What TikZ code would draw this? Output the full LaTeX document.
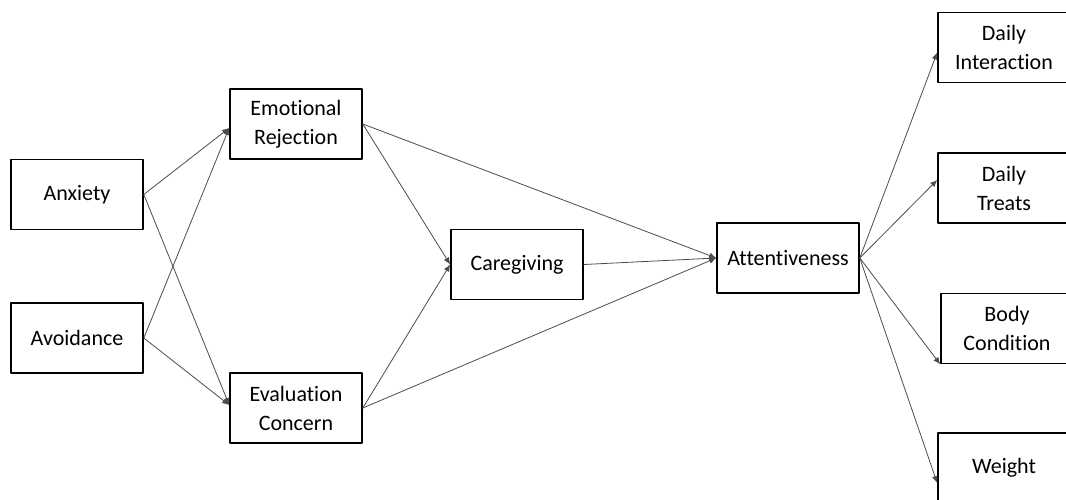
\documentclass[tikz,border=0pt]{standalone}
\usepackage{fontspec}
\setmainfont{Carlito}[Ligatures={NoCommon}]
\usetikzlibrary{arrows.meta}

\begin{document}
\begin{tikzpicture}
 [x=1pt,y=-1pt,line cap=round,line join=round,
 var/.style={draw=black,line width=1.6pt,fill=white,minimum width=132pt,minimum height=70pt,
   align=center,inner sep=2pt,font=\fontsize{22}{29}\selectfont},
 path/.style={draw=black!70,line width=0.8pt,-{Latex[length=7pt,width=6pt]}}]
\useasboundingbox (0,0) rectangle (1066,499);

% attachment and mediators
\node[var] (anx) at (77,194.5) {Anxiety};
\node[var] (avo) at (77,338) {Avoidance};
\node[var] (emo) at (296,124) {Emotional\\Rejection};
\node[var] (eva) at (296,408) {Evaluation\\Concern};
\node[var] (care) at (517,264.5) {Caregiving};
\node[var,minimum width=142pt] (att) at (788,258) {Attentiveness};

% outcomes
\node[var] (dint) at (1004,47.5) {Daily\\Interaction};
\node[var] (dtr) at (1004,188) {Daily\\Treats};
\node[var] (body) at (1007,328.5) {Body\\Condition};
\node[var] (wgt) at (1004,468) {Weight};

\draw[path] (anx.east) -- ([yshift=-4pt]emo.west);
\draw[path] (avo.east) -- ([yshift=-4pt]emo.west);
\draw[path] (anx.east) -- ([yshift=3pt]eva.west);
\draw[path] (avo.east) -- ([yshift=3pt]eva.west);

\draw[path] (emo.east) -- (care.west);
\draw[path] (eva.east) -- (care.west);
\draw[path] (emo.east) -- (att.west);
\draw[path] (eva.east) -- (att.west);
\draw[path] (care.east) -- (att.west);

\draw[path] (att.east) -- ([yshift=-5pt]dint.west);
\draw[path] (att.east) -- ([yshift=8pt]dtr.west);
\draw[path] (att.east) -- (body.south west);
\draw[path] (att.east) -- ([yshift=-15pt]wgt.west);
\end{tikzpicture}
\end{document}
